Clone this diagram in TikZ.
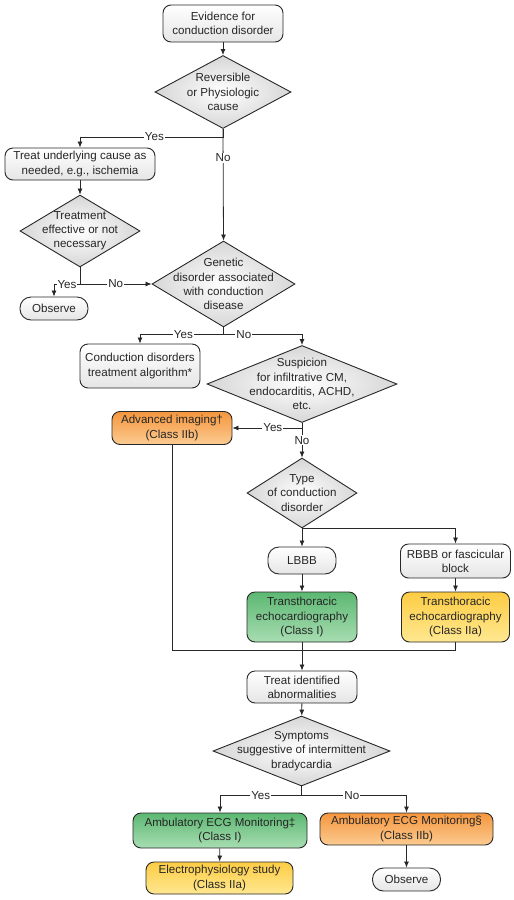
\documentclass[tikz,border=0pt]{standalone}
\usepackage{fontspec}
\setmainfont{Liberation Sans}
\usetikzlibrary{arrows.meta,shapes.geometric,positioning,calc}
\definecolor{grnTop}{RGB}{92,184,114}
\definecolor{grnBot}{RGB}{168,221,178}
\definecolor{ylwTop}{RGB}{253,204,68}
\definecolor{ylwBot}{RGB}{255,232,145}
\definecolor{orgTop}{RGB}{245,150,62}
\definecolor{orgBot}{RGB}{251,203,145}
\definecolor{lineCol}{RGB}{40,40,40}

\begin{document}
\begin{tikzpicture}[x=1pt,y=-1pt,
  txt/.style={font=\fontsize{11.6}{14.2}\selectfont, text=black!85},
  box/.style={txt, draw=lineCol, line width=0.9pt, rounded corners=8pt,
    align=center, inner sep=1pt, top color=white, bottom color=gray!20},
  pill/.style={box, rounded corners=11pt},
  greenbox/.style={box, top color=grnTop, bottom color=grnBot},
  yellowbox/.style={box, top color=ylwTop, bottom color=ylwBot},
  orangebox/.style={box, top color=orgTop, bottom color=orgBot},
  decision/.style={diamond, draw=lineCol, line width=0.9pt, inner sep=0pt,
    inner color=white, outer color=gray!32},
  dtext/.style={txt, align=center, inner sep=0pt},
  arr/.style={draw=lineCol, line width=0.8pt, -{Latex[length=6pt,width=5pt]}},
  conn/.style={draw=lineCol, line width=0.8pt},
  lbl/.style={txt, fill=white, inner sep=1pt}
]
\useasboundingbox (0,0) rectangle (514,900);

% boxes and decisions
\node[box, minimum width=120, minimum height=37] (ev) at (223,23.5) {Evidence for\\conduction disorder};
\node[decision, minimum width=136, minimum height=73,
  label={[dtext]center:{Reversible\\or Physiologic\\cause}}] (rev) at (223,92) {};
\node[box, minimum width=150, minimum height=32] (treat) at (80,164) {Treat underlying cause as\\needed, e.g., ischemia};
\node[decision, minimum width=120, minimum height=72,
  label={[dtext]center:{Treatment\\effective or not\\necessary}}] (eff) at (80,231) {};
\node[pill, minimum width=68, minimum height=23] (obsA) at (54,308.5) {Observe};
\node[decision, minimum width=143, minimum height=86,
  label={[dtext]center:{Genetic\\disorder associated\\with conduction\\disease}}] (gen) at (223.5,284) {};
\node[box, minimum width=120, minimum height=44] (cda) at (140,366) {Conduction disorders\\treatment algorithm*};
\node[decision, minimum width=190, minimum height=77,
  label={[dtext]center:{Suspicion\\for infiltrative CM,\\endocarditis, ACHD,\\etc.}}] (susp) at (302,384) {};
\node[orangebox, minimum width=120, minimum height=33] (adv) at (172,428) {Advanced imaging†\\(Class IIb)};
\node[decision, minimum width=110, minimum height=70,
  label={[dtext]center:{Type\\of conduction\\disorder}}] (type) at (302,493) {};
\node[pill, minimum width=68, minimum height=27] (lbbb) at (302,560.5) {LBBB};
\node[box, minimum width=110, minimum height=34] (rbbb) at (455.5,561) {RBBB or fascicular\\block};
\node[greenbox, minimum width=110, minimum height=50] (tteA) at (302,617) {Transthoracic\\echocardiography\\(Class I)};
\node[yellowbox, minimum width=108, minimum height=50] (tteB) at (455.5,617) {Transthoracic\\echocardiography\\(Class IIa)};
\coordinate (jn) at (302,650);
\node[box, minimum width=110, minimum height=32] (tia) at (302,687) {Treat identified\\abnormalities};
\node[decision, minimum width=177, minimum height=70,
  label={[dtext]center:{Symptoms\\suggestive of intermittent\\bradycardia}}] (sym) at (301.5,751) {};
\node[greenbox, minimum width=174, minimum height=35] (ambA) at (220,830.5) {Ambulatory ECG Monitoring‡\\(Class I)};
\node[orangebox, minimum width=173, minimum height=32] (ambB) at (406.5,829) {Ambulatory ECG Monitoring§\\(Class IIb)};
\node[yellowbox, minimum width=147, minimum height=32] (eps) at (219.5,878) {Electrophysiology study\\(Class IIa)};
\node[pill, minimum width=68, minimum height=23] (obsB) at (406.5,879.5) {Observe};

% connectors
\draw[arr] (ev) -- (rev);
\draw[arr] (rev.south) -- ++(0,8) -| node[lbl, pos=0.24] {Yes} (treat.north);
\draw[arr] (rev.south) -- node[lbl, pos=0.26] {No} (gen.north);
\draw[arr] (treat) -- (eff);
\draw[arr] (eff.south) -- ++(0,17) -| node[lbl, pos=0.25] {Yes} (obsA.north);
\draw[arr] (eff.south) |- node[lbl, pos=0.75] {No} (gen.west);
\draw[arr] (gen.south) -- ++(0,7) -| node[lbl, pos=0.24] {Yes} (cda.north);
\draw[arr] (gen.south) -- ++(0,7) -| node[lbl, pos=0.13] {No} (susp.north);
\draw[arr] (susp.south) |- node[lbl, pos=0.71] {Yes} (adv.east);
\draw[arr] (susp.south) -- node[lbl, pos=0.5] {No} (type.north);
\draw[arr] (type.south) -- (lbbb.north);
\draw[arr] (type.south) -| (rbbb.north);
\draw[arr] (lbbb) -- (tteA);
\draw[arr] (rbbb) -- (tteB);
\draw[conn] (adv.south) |- (jn);
\draw[conn] (tteB.south) |- (jn);
\draw[arr] (tteA) -- (tia);
\draw[arr] (tia) -- (sym);
\draw[arr] (sym.south) -- ++(0,9) -| node[lbl, pos=0.25] {Yes} (ambA.north);
\draw[arr] (sym.south) -- ++(0,9) -| node[lbl, pos=0.24] {No} (ambB.north);
\draw[arr] (ambA) -- (eps);
\draw[arr] (ambB) -- (obsB);
\end{tikzpicture}
\end{document}
